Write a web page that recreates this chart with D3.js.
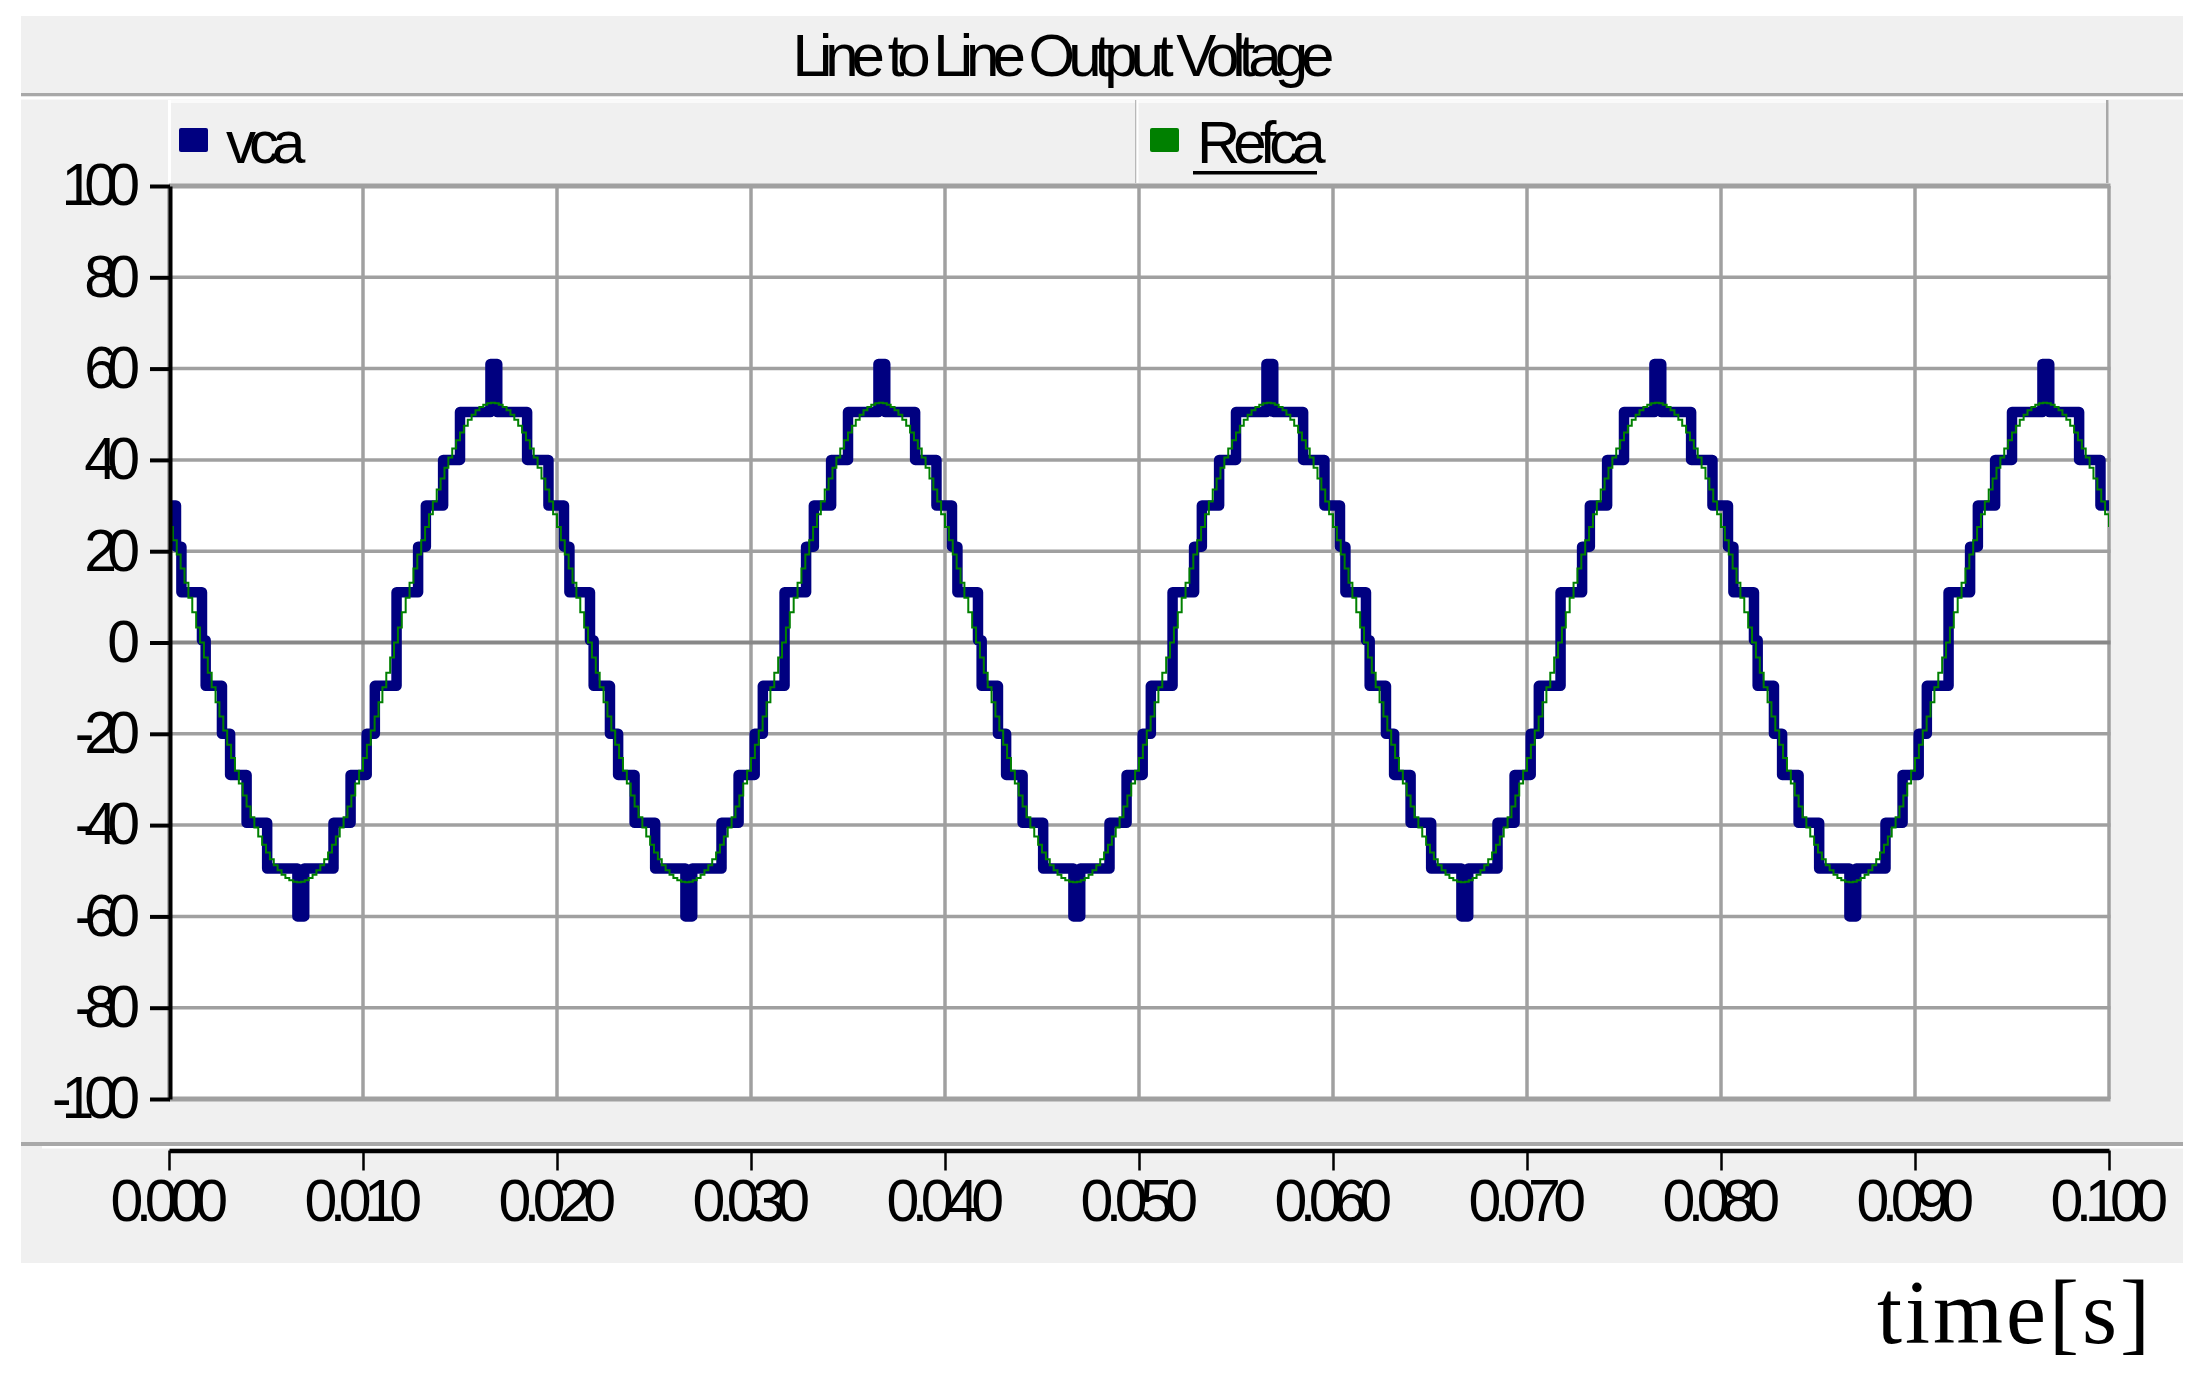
<!DOCTYPE html>
<html>
<head>
<meta charset="utf-8">
<script src="https://cdn.jsdelivr.net/npm/d3@7"></script>
<style>
  html, body { margin: 0; padding: 0; background: #fff; }
  svg { display: block; }
  text { font-family: "Liberation Sans", Arial, sans-serif; }
</style>
</head>
<body>
<svg id="chart" width="2204" height="1376"></svg>
<script>
// ---- data ----
const chartTitle = "Line to Line Output Voltage";
const seriesNames = ["vca", "Refca"];
const seriesColors = ["#000080", "#008000"];
const xLabel = "time[s]";
const yTicks = [100, 80, 60, 40, 20, 0, -20, -40, -60, -80, -100];
const xTicks = [0, 0.01, 0.02, 0.03, 0.04, 0.05, 0.06, 0.07, 0.08, 0.09, 0.1];

// vca: staircase, time of each level change and the level held after it
const vcaTime = [
  0, 0.00036, 0.00064, 0.0017, 0.00189, 0.00273, 0.00315, 0.004, 0.00506, 0.00662, 0.00697, 0.00848,
  0.00936, 0.01019, 0.01061, 0.01173, 0.01284, 0.01324, 0.01413, 0.015, 0.01657, 0.01692, 0.01846, 0.01956,
  0.02036, 0.02064, 0.0217, 0.02189, 0.02273, 0.02315, 0.024, 0.02506, 0.02662, 0.02697, 0.02848,
  0.02936, 0.03019, 0.03061, 0.03173, 0.03284, 0.03324, 0.03413, 0.035, 0.03657, 0.03692, 0.03846, 0.03956,
  0.04036, 0.04064, 0.0417, 0.04189, 0.04273, 0.04315, 0.044, 0.04506, 0.04662, 0.04697, 0.04848,
  0.04936, 0.05019, 0.05061, 0.05173, 0.05284, 0.05324, 0.05413, 0.055, 0.05657, 0.05692, 0.05846, 0.05956,
  0.06036, 0.06064, 0.0617, 0.06189, 0.06273, 0.06315, 0.064, 0.06506, 0.06662, 0.06697, 0.06848,
  0.06936, 0.07019, 0.07061, 0.07173, 0.07284, 0.07324, 0.07413, 0.075, 0.07657, 0.07692, 0.07846, 0.07956,
  0.08036, 0.08064, 0.0817, 0.08189, 0.08273, 0.08315, 0.084, 0.08506, 0.08662, 0.08697, 0.08848,
  0.08936, 0.09019, 0.09061, 0.09173, 0.09284, 0.09324, 0.09413, 0.095, 0.09657, 0.09692, 0.09846, 0.09956,
  0.1
];
const vcaValue = [
  30, 21, 11, 0.5, -9.5, -20, -29, -39.5, -49.5, -60, -49.5, -39.5,
  -29, -20, -9.5, 11, 21, 30, 40, 50.5, 61, 50.5, 40, 30,
  21, 11, 0.5, -9.5, -20, -29, -39.5, -49.5, -60, -49.5, -39.5,
  -29, -20, -9.5, 11, 21, 30, 40, 50.5, 61, 50.5, 40, 30,
  21, 11, 0.5, -9.5, -20, -29, -39.5, -49.5, -60, -49.5, -39.5,
  -29, -20, -9.5, 11, 21, 30, 40, 50.5, 61, 50.5, 40, 30,
  21, 11, 0.5, -9.5, -20, -29, -39.5, -49.5, -60, -49.5, -39.5,
  -29, -20, -9.5, 11, 21, 30, 40, 50.5, 61, 50.5, 40, 30,
  21, 11, 0.5, -9.5, -20, -29, -39.5, -49.5, -60, -49.5, -39.5,
  -29, -20, -9.5, 11, 21, 30, 40, 50.5, 61, 50.5, 40, 30,
  30
];

// Refca: sampled reference, one value every 0.2 ms
const refcaStep = 0.0002;
const refcaValue = [
  25.3, 22.4, 19.3, 16.2, 13.1, 9.8, 6.6, 3.3, 0, -3.3, -6.6, -9.8, -13.1, -16.2, -19.3, -22.4, -25.3, -28.1, -30.9, -33.5,
  -35.9, -38.3, -40.5, -42.5, -44.3, -46.0, -47.5, -48.8, -49.9, -50.9, -51.6, -52.1, -52.4, -52.5, -52.4, -52.1, -51.6, -50.9, -49.9, -48.8,
  -47.5, -46.0, -44.3, -42.5, -40.5, -38.3, -35.9, -33.5, -30.9, -28.1, -25.3, -22.4, -19.3, -16.2, -13.1, -9.8, -6.6, -3.3, 0, 3.3,
  6.6, 9.8, 13.1, 16.2, 19.3, 22.4, 25.3, 28.1, 30.9, 33.5, 35.9, 38.3, 40.5, 42.5, 44.3, 46.0, 47.5, 48.8, 49.9, 50.9,
  51.6, 52.1, 52.4, 52.5, 52.4, 52.1, 51.6, 50.9, 49.9, 48.8, 47.5, 46.0, 44.3, 42.5, 40.5, 38.3, 35.9, 33.5, 30.9, 28.1,
  25.3, 22.4, 19.3, 16.2, 13.1, 9.8, 6.6, 3.3, 0, -3.3, -6.6, -9.8, -13.1, -16.2, -19.3, -22.4, -25.3, -28.1, -30.9, -33.5,
  -35.9, -38.3, -40.5, -42.5, -44.3, -46.0, -47.5, -48.8, -49.9, -50.9, -51.6, -52.1, -52.4, -52.5, -52.4, -52.1, -51.6, -50.9, -49.9, -48.8,
  -47.5, -46.0, -44.3, -42.5, -40.5, -38.3, -35.9, -33.5, -30.9, -28.1, -25.3, -22.4, -19.3, -16.2, -13.1, -9.8, -6.6, -3.3, 0, 3.3,
  6.6, 9.8, 13.1, 16.2, 19.3, 22.4, 25.3, 28.1, 30.9, 33.5, 35.9, 38.3, 40.5, 42.5, 44.3, 46.0, 47.5, 48.8, 49.9, 50.9,
  51.6, 52.1, 52.4, 52.5, 52.4, 52.1, 51.6, 50.9, 49.9, 48.8, 47.5, 46.0, 44.3, 42.5, 40.5, 38.3, 35.9, 33.5, 30.9, 28.1,
  25.3, 22.4, 19.3, 16.2, 13.1, 9.8, 6.6, 3.3, 0, -3.3, -6.6, -9.8, -13.1, -16.2, -19.3, -22.4, -25.3, -28.1, -30.9, -33.5,
  -35.9, -38.3, -40.5, -42.5, -44.3, -46.0, -47.5, -48.8, -49.9, -50.9, -51.6, -52.1, -52.4, -52.5, -52.4, -52.1, -51.6, -50.9, -49.9, -48.8,
  -47.5, -46.0, -44.3, -42.5, -40.5, -38.3, -35.9, -33.5, -30.9, -28.1, -25.3, -22.4, -19.3, -16.2, -13.1, -9.8, -6.6, -3.3, 0, 3.3,
  6.6, 9.8, 13.1, 16.2, 19.3, 22.4, 25.3, 28.1, 30.9, 33.5, 35.9, 38.3, 40.5, 42.5, 44.3, 46.0, 47.5, 48.8, 49.9, 50.9,
  51.6, 52.1, 52.4, 52.5, 52.4, 52.1, 51.6, 50.9, 49.9, 48.8, 47.5, 46.0, 44.3, 42.5, 40.5, 38.3, 35.9, 33.5, 30.9, 28.1,
  25.3, 22.4, 19.3, 16.2, 13.1, 9.8, 6.6, 3.3, 0, -3.3, -6.6, -9.8, -13.1, -16.2, -19.3, -22.4, -25.3, -28.1, -30.9, -33.5,
  -35.9, -38.3, -40.5, -42.5, -44.3, -46.0, -47.5, -48.8, -49.9, -50.9, -51.6, -52.1, -52.4, -52.5, -52.4, -52.1, -51.6, -50.9, -49.9, -48.8,
  -47.5, -46.0, -44.3, -42.5, -40.5, -38.3, -35.9, -33.5, -30.9, -28.1, -25.3, -22.4, -19.3, -16.2, -13.1, -9.8, -6.6, -3.3, 0, 3.3,
  6.6, 9.8, 13.1, 16.2, 19.3, 22.4, 25.3, 28.1, 30.9, 33.5, 35.9, 38.3, 40.5, 42.5, 44.3, 46.0, 47.5, 48.8, 49.9, 50.9,
  51.6, 52.1, 52.4, 52.5, 52.4, 52.1, 51.6, 50.9, 49.9, 48.8, 47.5, 46.0, 44.3, 42.5, 40.5, 38.3, 35.9, 33.5, 30.9, 28.1,
  25.3, 22.4, 19.3, 16.2, 13.1, 9.8, 6.6, 3.3, 0, -3.3, -6.6, -9.8, -13.1, -16.2, -19.3, -22.4, -25.3, -28.1, -30.9, -33.5,
  -35.9, -38.3, -40.5, -42.5, -44.3, -46.0, -47.5, -48.8, -49.9, -50.9, -51.6, -52.1, -52.4, -52.5, -52.4, -52.1, -51.6, -50.9, -49.9, -48.8,
  -47.5, -46.0, -44.3, -42.5, -40.5, -38.3, -35.9, -33.5, -30.9, -28.1, -25.3, -22.4, -19.3, -16.2, -13.1, -9.8, -6.6, -3.3, 0, 3.3,
  6.6, 9.8, 13.1, 16.2, 19.3, 22.4, 25.3, 28.1, 30.9, 33.5, 35.9, 38.3, 40.5, 42.5, 44.3, 46.0, 47.5, 48.8, 49.9, 50.9,
  51.6, 52.1, 52.4, 52.5, 52.4, 52.1, 51.6, 50.9, 49.9, 48.8, 47.5, 46.0, 44.3, 42.5, 40.5, 38.3, 35.9, 33.5, 30.9, 28.1,
  25.3
];

// ---- layout ----
const svg = d3.select("#chart");
const plot = { left: 169, right: 2109, top: 186, bottom: 1099 };
const gridColor = "#a0a0a0";

const x = d3.scaleLinear().domain([0, 0.1]).range([plot.left, plot.right]);
const y = d3.scaleLinear().domain([-100, 100]).range([plot.bottom, plot.top]);

// grey panel + title band
svg.append("rect").attr("x", 21).attr("y", 16).attr("width", 2162).attr("height", 1247).attr("fill", "#f0f0f0");
svg.append("rect").attr("x", 21).attr("y", 93).attr("width", 2162).attr("height", 3.5).attr("fill", "#a8a8a8");
svg.append("rect").attr("x", 21).attr("y", 96.5).attr("width", 2162).attr("height", 3).attr("fill", "#ffffff");

svg.append("text")
    .attr("x", 1060).attr("y", 76)
    .attr("text-anchor", "middle")
    .style("font-size", "60px").style("letter-spacing", "-7px")
    .text(chartTitle);

// legend strip
const legend = svg.append("g");
legend.append("rect").attr("x", 169).attr("y", 100).attr("width", 1940).attr("height", 83).attr("fill", "#f0f0f0");
legend.append("rect").attr("x", 169).attr("y", 100).attr("width", 1940).attr("height", 3).attr("fill", "#fafafa");
legend.append("rect").attr("x", 168).attr("y", 100).attr("width", 3).attr("height", 83).attr("fill", "#ffffff");
legend.append("rect").attr("x", 1135).attr("y", 100).attr("width", 1.5).attr("height", 83).attr("fill", "#b8b8b8");
legend.append("rect").attr("x", 1136.5).attr("y", 100).attr("width", 2).attr("height", 83).attr("fill", "#ffffff");
legend.append("rect").attr("x", 2106).attr("y", 100).attr("width", 2.5).attr("height", 83).attr("fill", "#a8a8a8");

const legendX = [179, 1150];
seriesNames.forEach((name, i) => {
  legend.append("rect")
      .attr("x", legendX[i]).attr("y", 128).attr("width", 29).attr("height", 24)
      .attr("rx", 2).attr("fill", seriesColors[i]);
  legend.append("text")
      .attr("x", legendX[i] + 47).attr("y", 163)
      .style("font-size", "60px").style("letter-spacing", "-7px")
      .text(name);
});
// the second entry is underlined (selected) in the original
legend.append("rect").attr("x", 1193).attr("y", 171).attr("width", 124).attr("height", 3.5).attr("fill", "#000");

// plot area
svg.append("rect")
    .attr("x", plot.left).attr("y", plot.top)
    .attr("width", plot.right - plot.left).attr("height", plot.bottom - plot.top)
    .attr("fill", "#ffffff");

const grid = svg.append("g");
grid.selectAll("line.v").data(xTicks).join("line")
    .attr("x1", d => x(d)).attr("x2", d => x(d))
    .attr("y1", plot.top).attr("y2", plot.bottom)
    .attr("stroke", gridColor).attr("stroke-width", 3.5);
grid.selectAll("line.h").data(yTicks).join("line")
    .attr("x1", plot.left).attr("x2", plot.right + 1.5)
    .attr("y1", d => y(d)).attr("y2", d => y(d))
    .attr("stroke", d => d === 0 ? "#888888" : gridColor)
    .attr("stroke-width", d => (d === 100 || d === -100) ? 5 : (d === 0 ? 4 : 3.5));

// series
svg.append("clipPath").attr("id", "plotClip")
  .append("rect")
    .attr("x", plot.left + 2).attr("y", plot.top - 10)
    .attr("width", plot.right - plot.left - 2).attr("height", plot.bottom - plot.top + 20);

const vcaData = vcaTime.map((t, i) => ({ t: t, v: vcaValue[i] }));
const refcaData = refcaValue.map((v, i) => ({ t: i * refcaStep, v: v }));

const stepLine = d3.line()
    .x(d => x(d.t))
    .y(d => y(d.v))
    .curve(d3.curveStepAfter);

const series = svg.append("g").attr("clip-path", "url(#plotClip)");
series.append("path")
    .datum(vcaData)
    .attr("d", stepLine)
    .attr("fill", "none")
    .attr("stroke", seriesColors[0])
    .attr("stroke-width", 10.5)
    .attr("stroke-linejoin", "round")
    .attr("stroke-linecap", "round");
series.append("path")
    .datum(refcaData)
    .attr("d", stepLine)
    .attr("fill", "none")
    .attr("stroke", seriesColors[1])
    .attr("stroke-width", 2);

// y axis
const yAxis = svg.append("g")
    .attr("transform", "translate(170,0)")
    .call(d3.axisLeft(y).tickValues(yTicks).tickFormat(d => String(d))
        .tickSize(20).tickSizeOuter(0).tickPadding(20));
yAxis.select(".domain").attr("stroke", "#000").attr("stroke-width", 4);
yAxis.selectAll(".tick line").attr("stroke", "#000").attr("stroke-width", 4);
yAxis.selectAll(".tick text")
    .attr("fill", "#000")
    .style("font-family", "'Liberation Sans', Arial, sans-serif")
    .style("font-size", "59px").style("letter-spacing", "-10px");

// x axis band
svg.append("rect").attr("x", 21).attr("y", 1142).attr("width", 2162).attr("height", 4).attr("fill", "#a8a8a8");
svg.append("rect").attr("x", 42).attr("y", 1146).attr("width", 2141).attr("height", 2.5).attr("fill", "#ffffff");

const xAxis = svg.append("g")
    .attr("transform", "translate(0,1150.5)")
    .call(d3.axisBottom(x).tickValues(xTicks).tickFormat(d3.format(".3f"))
        .tickSize(20).tickSizeOuter(0).tickPadding(9));
xAxis.select(".domain").attr("stroke", "#000").attr("stroke-width", 4.5);
xAxis.selectAll(".tick line").attr("stroke", "#000").attr("stroke-width", 2.5);
xAxis.selectAll(".tick text")
    .attr("fill", "#000")
    .attr("dx", -4)
    .style("font-family", "'Liberation Sans', Arial, sans-serif")
    .style("font-size", "59px").style("letter-spacing", "-7.5px");

// axis caption below the panel
svg.append("text")
    .attr("x", 1877).attr("y", 1343)
    .style("font-family", "'Liberation Serif', 'Times New Roman', serif")
    .style("font-size", "90px").style("letter-spacing", "3px")
    .text(xLabel);
</script>
</body>
</html>
